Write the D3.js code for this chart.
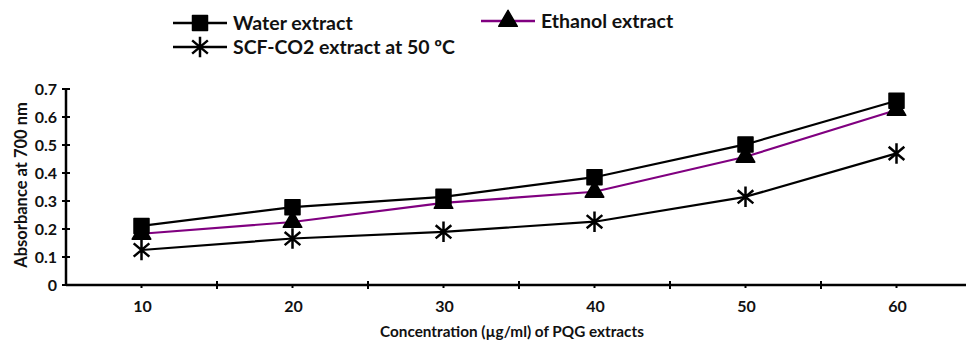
<!DOCTYPE html>
<html>
<head>
<meta charset="utf-8">
<script src="https://cdn.jsdelivr.net/npm/d3@7"></script>
<style>
  body { margin: 0; background: #fff; }
  text { font-family: Lato, "Open Sans", sans-serif; font-weight: bold; fill: #111; }
</style>
</head>
<body>
<script>
// data
var concentrations = [10, 20, 30, 40, 50, 60];
var waterValues = [0.211, 0.278, 0.315, 0.385, 0.502, 0.658];
var ethanolValues = [0.183, 0.225, 0.293, 0.333, 0.458, 0.625];
var scfValues = [0.125, 0.166, 0.19, 0.226, 0.315, 0.47];
var yTicks = [0, 0.1, 0.2, 0.3, 0.4, 0.5, 0.6, 0.7];
var seriesNames = ["Water extract", "Ethanol extract", "SCF-CO2 extract at 50 ºC"];

var width = 966;
var height = 341;

var svg = d3.select("body")
  .append("svg")
  .attr("width", width)
  .attr("height", height);

var xScale = d3.scaleLinear()
  .domain([5, 65])
  .range([66, 972]);

var yScale = d3.scaleLinear()
  .domain([0, 0.7])
  .range([285, 89]);

// y axis
svg.append("line")
  .attr("x1", xScale(5)).attr("x2", xScale(5))
  .attr("y1", yScale(0)).attr("y2", yScale(0.7))
  .attr("stroke", "black").attr("stroke-width", 2.5);

svg.selectAll(".ytick").data(yTicks).enter().append("line")
  .attr("x1", xScale(5) - 4).attr("x2", xScale(5) + 4)
  .attr("y1", function(d) { return yScale(d); })
  .attr("y2", function(d) { return yScale(d); })
  .attr("stroke", "black").attr("stroke-width", 2);

svg.selectAll(".ylab").data(yTicks).enter().append("text")
  .attr("x", 57)
  .attr("y", function(d) { return yScale(d); })
  .attr("dy", "0.36em")
  .attr("text-anchor", "end")
  .style("font-size", "16px")
  .text(function(d) { return d === 0 ? "0" : d3.format(".1f")(d); });

// x axis
svg.append("line")
  .attr("x1", xScale(5)).attr("x2", width)
  .attr("y1", yScale(0)).attr("y2", yScale(0))
  .attr("stroke", "black").attr("stroke-width", 2.5);

var midTicks = [15, 25, 35, 45, 55];
svg.selectAll(".xmid").data(midTicks).enter().append("line")
  .attr("x1", function(d) { return xScale(d); })
  .attr("x2", function(d) { return xScale(d); })
  .attr("y1", yScale(0) - 4).attr("y2", yScale(0) + 4)
  .attr("stroke", "black").attr("stroke-width", 2);

svg.selectAll(".xcat").data(concentrations).enter().append("line")
  .attr("x1", function(d) { return xScale(d); })
  .attr("x2", function(d) { return xScale(d); })
  .attr("y1", yScale(0)).attr("y2", yScale(0) + 3)
  .attr("stroke", "black").attr("stroke-width", 2);

svg.selectAll(".xlab").data(concentrations).enter().append("text")
  .attr("x", function(d) { return xScale(d) + 1; })
  .attr("y", 312)
  .attr("text-anchor", "middle")
  .style("font-size", "16px")
  .text(function(d) { return d; });

svg.append("text")
  .attr("x", 512).attr("y", 337)
  .attr("text-anchor", "middle")
  .style("font-size", "15.3px")
  .text("Concentration (µg/ml) of PQG extracts");

svg.append("text")
  .attr("transform", "translate(27,185) rotate(-90)")
  .attr("text-anchor", "middle")
  .style("font-size", "16.5px")
  .text("Absorbance at 700 nm");

// lines
var line = d3.line()
  .x(function(d, i) { return xScale(concentrations[i]); })
  .y(function(d) { return yScale(d); });

function drawLine(values, color) {
  svg.append("path")
    .attr("d", line(values))
    .attr("fill", "none")
    .attr("stroke", color)
    .attr("stroke-width", 2.2)
    .attr("stroke-linejoin", "round");
}

drawLine(waterValues, "black");
drawLine(ethanolValues, "#800080");
drawLine(scfValues, "black");

// six-arm asterisk: vertical arm plus an X
var asteriskSymbol = {
  draw: function(context, size) {
    var r = Math.sqrt(size) / 2;
    var angles = [90, 40, 140];
    angles.forEach(function(deg) {
      var a = deg * Math.PI / 180;
      context.moveTo(r * Math.cos(a), r * Math.sin(a));
      context.lineTo(-r * Math.cos(a), -r * Math.sin(a));
    });
  }
};

var square = d3.symbol().type(d3.symbolSquare).size(225);
var triangle = d3.symbol().type(d3.symbolTriangle).size(150);
var star = d3.symbol().type(asteriskSymbol).size(420);

function drawMarkers(values, sym, asStroke) {
  svg.selectAll(null).data(values).enter().append("path")
    .attr("d", sym)
    .attr("transform", function(d, i) {
      return "translate(" + xScale(concentrations[i]) + "," + yScale(d) + ")";
    })
    .attr("fill", asStroke ? "none" : "black")
    .attr("stroke", "black")
    .attr("stroke-width", asStroke ? 2.5 : 1.5)
    .attr("stroke-linejoin", "round");
}

drawMarkers(scfValues, star, true);
drawMarkers(ethanolValues, triangle, false);
drawMarkers(waterValues, square, false);

// legend
var legend = [
  { name: seriesNames[0], x: 173, y: 23, color: "black", sym: square, stroke: false },
  { name: seriesNames[1], x: 481, y: 21, color: "#800080", sym: triangle, stroke: false },
  { name: seriesNames[2], x: 173, y: 47, color: "black", sym: star, stroke: true }
];

legend.forEach(function(l) {
  svg.append("line")
    .attr("x1", l.x).attr("x2", l.x + 54)
    .attr("y1", l.y).attr("y2", l.y)
    .attr("stroke", l.color).attr("stroke-width", 2.5);
  svg.append("path")
    .attr("d", l.sym)
    .attr("transform", "translate(" + (l.x + 27) + "," + l.y + ")")
    .attr("fill", l.stroke ? "none" : "black")
    .attr("stroke", "black")
    .attr("stroke-width", l.stroke ? 2.5 : 1.5)
    .attr("stroke-linejoin", "round");
  svg.append("text")
    .attr("x", l.x + 60).attr("y", l.y)
    .attr("dy", "0.36em")
    .style("font-size", "19.5px")
    .text(l.name);
});
</script>
</body>
</html>
